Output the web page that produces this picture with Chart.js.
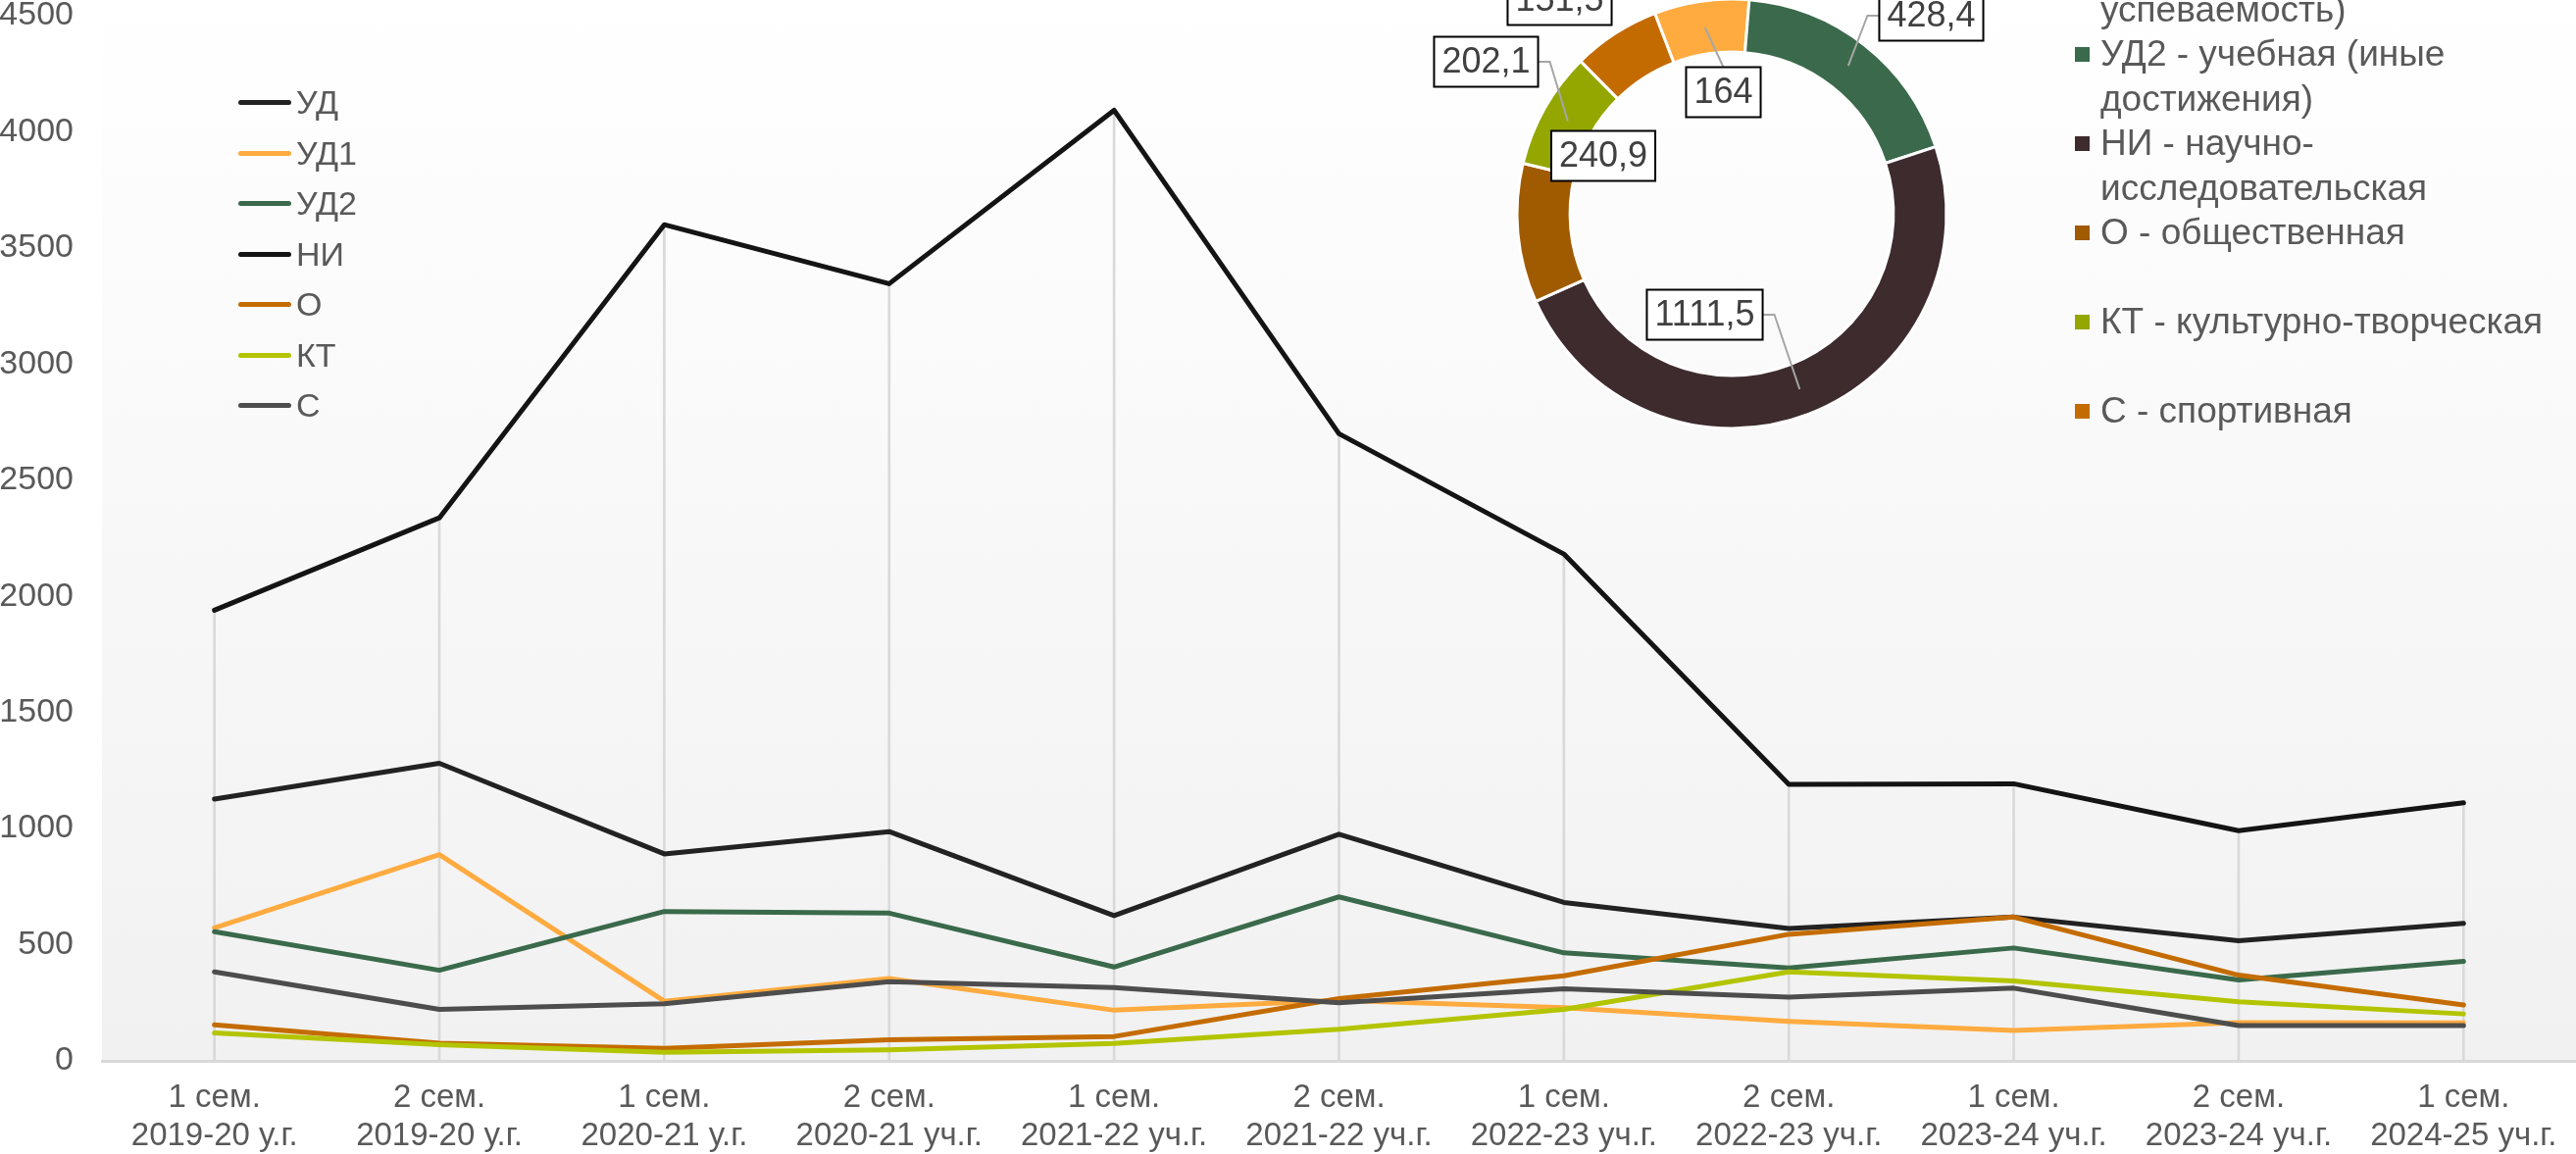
<!DOCTYPE html>
<html>
<head>
<meta charset="utf-8">
<script src="https://cdn.jsdelivr.net/npm/chart.js@4.4.1/dist/chart.umd.min.js"></script>
<style>
    html, body { margin: 0; padding: 0; background: #fff; }
    #wrap { position: relative; width: 2627px; height: 1177px; overflow: hidden;
            font-family: "Liberation Sans", Arial, sans-serif; color: #595959; }
    #lineCanvas { position: absolute; left: 0; top: 0; }
    #donutCanvas { position: absolute; left: 1416px; top: -32px; }
    .lg { position: absolute; height: 46px; line-height: 46px; font-size: 34px; white-space: nowrap; }
    .lg .sw { position: absolute; left: 0; top: 21px; width: 54px; height: 5px; border-radius: 3px; }
    .lg .tx { position: absolute; left: 59px; top: 0; }
    .dl { position: absolute; font-size: 37px; line-height: 46px; white-space: nowrap; }
    .dl .sq { position: absolute; left: 0; top: 16px; width: 15px; height: 15px; }
    .dl .tx { position: absolute; left: 26px; top: 0; }
</style>
</head>
<body>
<div id="wrap">
    <canvas id="lineCanvas" width="2627" height="1177"></canvas>
    <div id="lineLegend"></div>
    <canvas id="donutCanvas" width="700" height="500"></canvas>
    <div id="donutLegend"></div>
</div>
<script>
// ── Данные ────────────────────────────────────────────────────────────────
const periods = [
    ['1 сем.', '2019-20 у.г.'], ['2 сем.', '2019-20 у.г.'],
    ['1 сем.', '2020-21 у.г.'], ['2 сем.', '2020-21 уч.г.'],
    ['1 сем.', '2021-22 уч.г.'], ['2 сем.', '2021-22 уч.г.'],
    ['1 сем.', '2022-23 уч.г.'], ['2 сем.', '2022-23 уч.г.'],
    ['1 сем.', '2023-24 уч.г.'], ['2 сем.', '2023-24 уч.г.'],
    ['1 сем.', '2024-25 уч.г.'],
];

const udValues  = [1127, 1281, 891, 987, 625, 976, 682, 570, 619, 517, 592.4];
const ud1Values = [573, 888, 257, 355, 218, 261, 229, 170, 131, 165, 164];
const ud2Values = [556, 390, 643, 636, 404, 706, 465, 400, 486, 348, 428.4];
const niValues  = [1940, 2338, 3600, 3346, 4093, 2700, 2182, 1190, 1193, 991, 1111.5];
const oValues   = [155, 76, 54, 91, 105, 268, 366, 545, 619, 369, 240.9];
const ktValues  = [120, 70, 37, 47, 75, 136, 222, 383, 344, 254, 202.1];
const sValues   = [383, 222, 246, 341, 316, 250, 310, 274, 313, 152, 151.5];

const seriesNames  = ['УД', 'УД1', 'УД2', 'НИ', 'О', 'КТ', 'С'];
const seriesData   = [udValues, ud1Values, ud2Values, niValues, oValues, ktValues, sValues];
const seriesColors = ['#222222', '#ffab40', '#3a6a4b', '#141414', '#c46c00', '#b3c400', '#4d4d4d'];

// кольцо: 1 сем. 2024-25 уч.г.
const donutNames = [
    ['УД1 - учебная (', 'успеваемость)'],
    ['УД2 - учебная (иные', 'достижения)'],
    ['НИ - научно-', 'исследовательская'],
    ['О - общественная'],
    ['КТ - культурно-творческая'],
    ['С - спортивная'],
];
const donutValues = [164, 428.4, 1111.5, 240.9, 202.1, 151.5];
const donutColors = ['#ffab40', '#3a6a4b', '#3d2b2e', '#a05a00', '#94a600', '#c46b00'];

// расположение подписей относительно центра кольца
const labelOffsets = [[-8.5, -124], [203.5, -202], [-27.5, 103], [-131, -59], [-250.5, -155], [-175.5, -218]];
const labelLeaders = [true, true, true, false, true, false];

const FONT = '"Liberation Sans", Arial, sans-serif';

// ── Фон области построения (градиент) ─────────────────────────────────────
const plotBg = {
    id: 'plotBg',
    beforeDraw(chart) {
        const { ctx, chartArea } = chart;
        const g = ctx.createLinearGradient(0, 0, 0, chartArea.bottom);
        g.addColorStop(0, '#ffffff');
        g.addColorStop(1, '#f1f1f1');
        ctx.save();
        ctx.fillStyle = g;
        ctx.fillRect(chartArea.left, 0, chartArea.right - chartArea.left, chartArea.bottom);
        ctx.restore();
    },
};

// ── Линейный график ───────────────────────────────────────────────────────
const lineSets = seriesNames.map((name, i) => ({
    label: name,
    data: seriesData[i],
    borderColor: seriesColors[i],
    backgroundColor: seriesColors[i],
    borderWidth: 5,
    pointRadius: 0,
    tension: 0,
    borderJoinStyle: 'round',
    borderCapStyle: 'round',
    order: seriesNames.length - i,
}));

// линии проекции от НИ к оси
const dropLines = {
    type: 'bar',
    label: 'drop',
    data: niValues,
    backgroundColor: '#d9d9d9',
    barThickness: 2,
    order: 20,
};

new Chart(document.getElementById('lineCanvas'), {
    type: 'line',
    data: { labels: periods, datasets: [dropLines, ...lineSets] },
    options: {
        responsive: false,
        animation: false,
        layout: { padding: { top: 16, left: 0, right: 0, bottom: 0 } },
        plugins: { legend: { display: false }, tooltip: { enabled: false } },
        scales: {
            x: {
                offset: true,
                grid: { display: false, drawTicks: true, tickLength: 18 },
                border: { display: true, color: '#d9d9d9', width: 3 },
                ticks: {
                    color: '#595959', autoSkip: false, maxRotation: 0, padding: 0,
                    font: { size: 33, family: FONT, lineHeight: 1.18 },
                },
                afterFit(scale) { scale.height = 95; },
            },
            y: {
                min: 0, max: 4500,
                grid: { display: false, drawTicks: true, tickLength: 29 },
                border: { display: false },
                ticks: {
                    stepSize: 500, color: '#595959', padding: 0,
                    font: { size: 34, family: FONT, lineHeight: 0.75 },
                    callback: (v) => String(v),
                },
                afterFit(scale) { scale.width = 104; },
            },
        },
    },
    plugins: [plotBg],
});

// легенда линий
const lineLegend = document.getElementById('lineLegend');
seriesNames.forEach((name, i) => {
    const d = document.createElement('div');
    d.className = 'lg';
    d.style.left = '243px';
    d.style.top = (104 + i * 51.5 - 23) + 'px';
    d.innerHTML = `<span class="sw" style="background:${seriesColors[i]}"></span><span class="tx">${name}</span>`;
    lineLegend.appendChild(d);
});

// ── Кольцевая диаграмма ───────────────────────────────────────────────────
const fmt = (v) => String(v).replace('.', ',');

const donutLabels = {
    id: 'donutLabels',
    afterDatasetsDraw(chart) {
        const ctx = chart.ctx;
        const meta = chart.getDatasetMeta(0);
        const cx = (chart.chartArea.left + chart.chartArea.right) / 2;
        const cy = (chart.chartArea.top + chart.chartArea.bottom) / 2;
        ctx.save();
        ctx.font = '36px ' + FONT;
        meta.data.forEach((arc, i) => {
            const text = fmt(donutValues[i]);
            const bx = cx + labelOffsets[i][0];
            const by = cy + labelOffsets[i][1];
            const w = ctx.measureText(text).width + 16;
            const h = 51;
            const l = bx - w / 2, r = bx + w / 2, t = by - h / 2, b = by + h / 2;

            if (labelLeaders[i]) {
                const p = arc.getCenterPoint(true);
                ctx.strokeStyle = '#a6a6a6';
                ctx.lineWidth = 2;
                ctx.beginPath();
                if (p.x < l) {
                    ctx.moveTo(l, by); ctx.lineTo(l - 12, by); ctx.lineTo(p.x, p.y);
                } else if (p.x > r) {
                    ctx.moveTo(r, by); ctx.lineTo(r + 12, by); ctx.lineTo(p.x, p.y);
                } else if (p.y < t) {
                    ctx.moveTo(bx, t); ctx.lineTo(p.x, p.y);
                } else {
                    ctx.moveTo(bx, b); ctx.lineTo(p.x, p.y);
                }
                ctx.stroke();
            }

            ctx.fillStyle = '#ffffff';
            ctx.fillRect(l, t, w, h);
            ctx.strokeStyle = '#000000';
            ctx.lineWidth = 2;
            ctx.strokeRect(l, t, w, h);
            ctx.fillStyle = '#404040';
            ctx.textAlign = 'center';
            ctx.textBaseline = 'middle';
            ctx.fillText(text, bx, by + 1);
        });
        ctx.restore();
    },
};

new Chart(document.getElementById('donutCanvas'), {
    type: 'doughnut',
    data: {
        labels: donutNames.map((n) => n.join(' ')),
        datasets: [{
            data: donutValues,
            backgroundColor: donutColors,
            borderColor: '#ffffff',
            borderWidth: 3,
        }],
    },
    options: {
        responsive: false,
        animation: false,
        radius: 219,
        cutout: '75.3%',
        rotation: -21,
        layout: { padding: 0 },
        plugins: { legend: { display: false }, tooltip: { enabled: false } },
    },
    plugins: [donutLabels],
});

// легенда кольца
const donutLegend = document.getElementById('donutLegend');
donutNames.forEach((lines, i) => {
    const d = document.createElement('div');
    d.className = 'dl';
    d.style.left = '2116px';
    d.style.top = (55 + (i - 1) * 91 - 23) + 'px';
    d.innerHTML = `<span class="sq" style="background:${donutColors[i]}"></span><span class="tx">${lines.join('<br>')}</span>`;
    donutLegend.appendChild(d);
});
</script>
</body>
</html>
